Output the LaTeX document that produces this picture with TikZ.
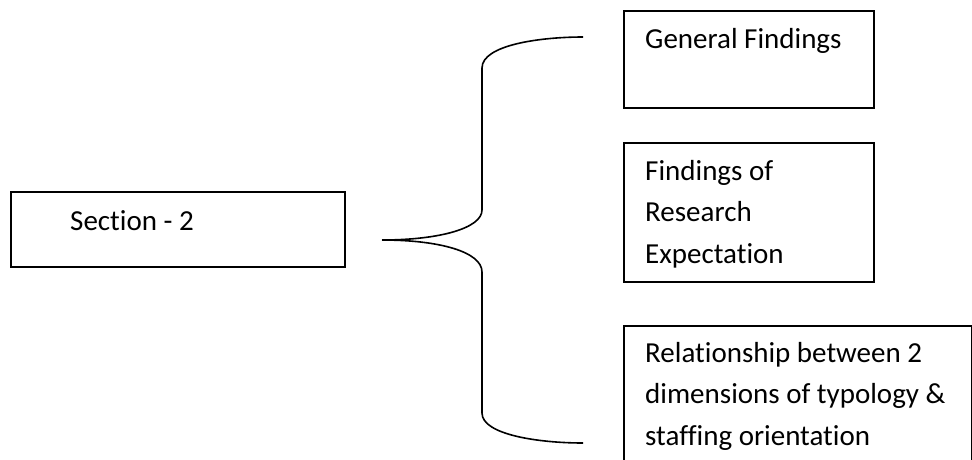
\documentclass[tikz,border=0pt]{standalone}
\usepackage{fontspec}
\setmainfont{Carlito}[Ligatures=NoCommon]
\begin{document}
\begin{tikzpicture}[x=1pt,y=-1pt,
  box/.style={draw=black, line width=1.6pt, fill=none},
  lbl/.style={anchor=base west, inner sep=0pt, font=\fontsize{29}{41.5}\selectfont, align=left},
  brace/.style={draw=black, line width=1.6pt}]
\useasboundingbox (0,0) rectangle (972,459);
\clip (0,0) rectangle (972,459);
% boxes
\node[box, anchor=north west, minimum width=334pt, minimum height=75pt, inner sep=0pt] (sec) at (10,191) {};
\node[box, anchor=north west, minimum width=250pt, minimum height=97pt, inner sep=0pt] (gen) at (623,10) {};
\node[box, anchor=north west, minimum width=250pt, minimum height=139pt, inner sep=0pt] (res) at (623,142) {};
\node[box, anchor=north west, minimum width=348pt, minimum height=160pt, inner sep=0pt] (rel) at (623,325) {};
% labels (base = baseline of last line)
\node[lbl] (secl) at (70,230) {Section - 2};
\node[lbl] (genl) at (645,48) {General Findings};
\node[lbl] (resl) at (645,263) {Findings of\\Research\\Expectation};
\node[lbl] (rell) at (645,445) {Relationship between 2\\dimensions of typology \&\\staffing orientation};
% brace
\coordinate (tip) at (382,240);
\coordinate (top) at (583,37);
\coordinate (bot) at (583,443);
\draw[brace] (tip) .. controls (440,240) and (482,228) .. (482,210)
  -- (482,68) .. controls (482,45) and (540,37) .. (top);
\draw[brace] (tip) .. controls (440,240) and (482,252) .. (482,272)
  -- (482,413) .. controls (482,435) and (540,443) .. (bot);
\end{tikzpicture}
\end{document}
